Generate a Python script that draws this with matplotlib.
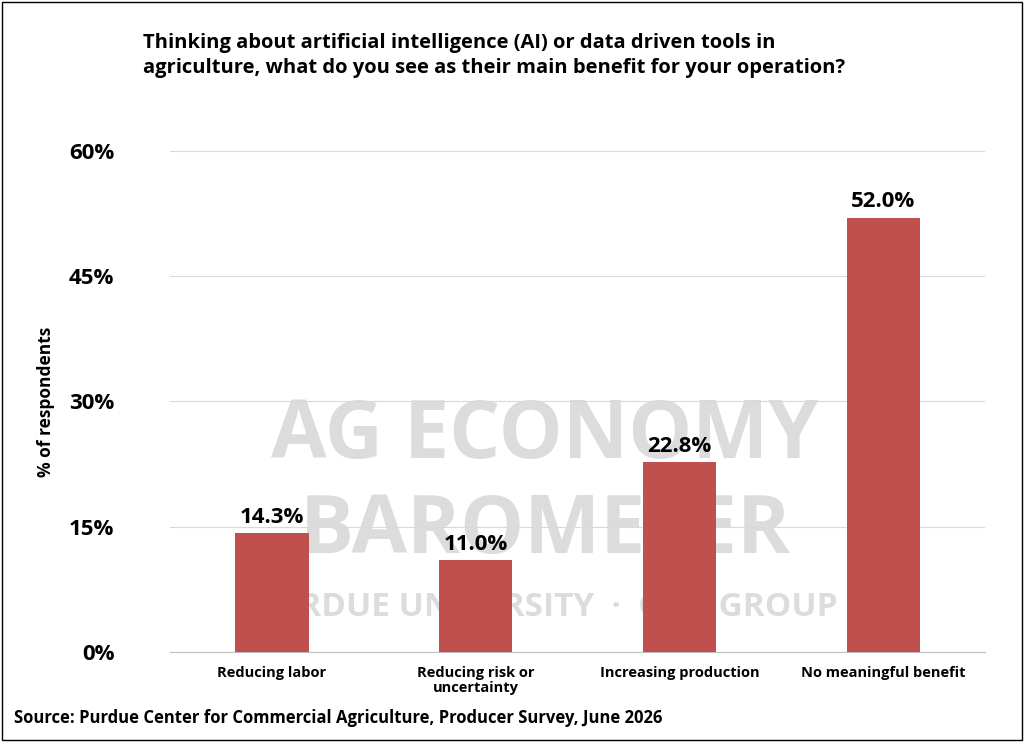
import matplotlib.pyplot as plt
from matplotlib.patches import Rectangle

categories = ['Reducing labor', 'Reducing risk or\nuncertainty', 'Increasing production', 'No meaningful benefit']
values = [14.3, 11.0, 22.8, 52.0]
yticks = [0, 15, 30, 45, 60]

plt.rcParams['font.family'] = ['Open Sans', 'DejaVu Sans']

fig = plt.figure(figsize=(10.24, 7.42), dpi=100)
ax = fig.add_axes([0.166, 0.121, 0.796, 0.676])

# faint watermark behind the bars
wm = dict(color='#dcdcdc', fontweight='bold', ha='center', va='center', zorder=0,
          transform=ax.transAxes)
ax.text(0.46, 0.43, 'AG ECONOMY', fontsize=58, **wm)
ax.text(0.46, 0.24, 'BAROMETER', fontsize=58, **wm)
ax.text(0.46, 0.09, 'PURDUE UNIVERSITY  ·  CME GROUP', fontsize=24, **wm)

ax.bar(range(len(values)), values, width=0.36, color='#c0504d', zorder=3)
for i, v in enumerate(values):
    ax.text(i, v + 0.6, f'{v:.1f}%', ha='center', va='bottom', fontsize=16,
            fontweight='bold', zorder=4)

ax.set_ylim(0, 60)
ax.set_xlim(-0.5, len(values) - 0.5)
ax.set_yticks(yticks)
ax.set_yticklabels([f'{t}%' for t in yticks], fontsize=16, fontweight='bold')
ax.set_xticks(range(len(values)))
ax.set_xticklabels(categories, fontsize=10.5, fontweight='bold', linespacing=1.1)
ax.tick_params(length=0, pad=10)
ax.tick_params(axis='y', pad=40)
ax.grid(axis='y', color='#d9d9d9', linewidth=0.8, zorder=1)
for s in ['top', 'right', 'left']:
    ax.spines[s].set_visible(False)
ax.spines['bottom'].set_color('#bfbfbf')
ax.set_ylabel('% of respondents', fontsize=12.5, fontweight='bold', labelpad=10)

fig.text(0.14, 0.925, 'Thinking about artificial intelligence (AI) or data driven tools in\n'
         'agriculture, what do you see as their main benefit for your operation?',
         fontsize=14.5, fontweight='bold', va='center', linespacing=1.35)
fig.text(0.014, 0.032, 'Source: Purdue Center for Commercial Agriculture, Producer Survey, June 2026',
         fontsize=12, fontweight='bold', va='center')
fig.patches.append(Rectangle((0.002, 0.003), 0.996, 0.994, transform=fig.transFigure,
                             fill=False, edgecolor='black', linewidth=1))

fig.savefig('out.png', dpi=100)
